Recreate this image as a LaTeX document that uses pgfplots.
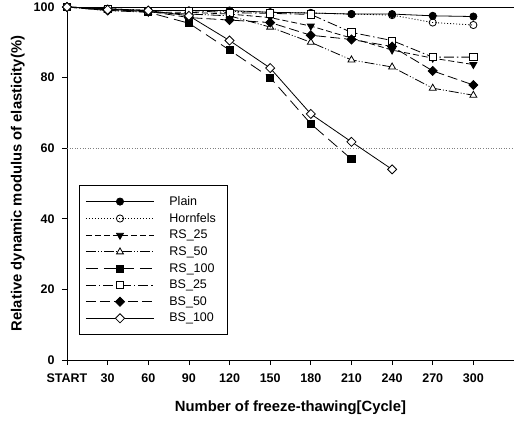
\documentclass[border=0pt]{standalone}
\usepackage{pgfplots}
\pgfplotsset{compat=1.18}
\usepackage{fontspec}
\setmainfont{Liberation Sans}
\begin{document}
\begin{tikzpicture}[x=1bp,y=1bp]
\begin{axis}[
  name=ax,
  scale only axis, width=447bp, height=353bp,
  xmin=0, xmax=11, ymin=0, ymax=100,
  axis x line=bottom, axis y line=left, axis line style={-, line width=0.8bp},
  tick align=outside, major tick length=5bp,
  tick style={line width=0.8bp, black},
  xtick={0,...,10}, xticklabels={START,30,60,90,120,150,180,210,240,270,300},
  ytick={0,20,40,60,80,100},
  /pgf/number format/assume math mode=true,
  ticklabel style={font=\fontsize{12.5bp}{14bp}\selectfont\bfseries},
  xticklabel style={yshift=-5bp},
  yticklabel style={xshift=-4bp},
  xlabel={Number of freeze-thawing[Cycle]},
  ylabel={Relative dynamic modulus of elasticity(\%)},
  label style={font=\fontsize{14.8bp}{17bp}\selectfont\bfseries},
  xlabel style={yshift=-12bp},
  ylabel style={yshift=2bp},
  clip=false,
  every axis plot/.append style={line width=0.8bp, black, mark size=3.6bp},
  legend cell align=left,
  legend style={at={(axis cs:0.3,49.6)}, anchor=north west, draw=black, line width=0.8bp,
    font=\fontsize{12.5bp}{14bp}\selectfont, inner xsep=6bp, inner ysep=9bp,
    row sep=2.4bp, nodes={inner xsep=5bp}},
  legend image code/.code={\draw[mark repeat=2,mark phase=2] plot coordinates {(0bp,0bp)(34bp,0bp)(68bp,0bp)}; \path (78bp,0bp);},
]
\addplot[forget plot, line width=0.8bp] coordinates {(0,100)(11,100)};
\addplot[forget plot, gray, dash pattern=on 0.8bp off 1.8bp, line width=0.6bp] coordinates {(0,60)(11,60)};

\addplot[solid, mark=*, mark options={solid, fill=black}] coordinates {(0,100)(1,99.5)(2,99)(3,99)(4,99)(5,98.5)(6,98.3)(7,98)(8,98)(9,97.5)(10,97.3)};
\addlegendentry{Plain}
\addplot[dash pattern=on 1bp off 2bp, mark=o, mark options={solid, fill=white}] coordinates {(0,100)(1,99.5)(2,99)(3,99)(4,98.8)(5,98.5)(6,98.3)(7,98)(8,97.7)(9,95.6)(10,94.9)};
\addlegendentry{Hornfels}
\addplot[dash pattern=on 6bp off 3bp, mark=triangle*, mark size=4bp, mark options={solid, fill=black, rotate=180}] coordinates {(0,100)(1,99.5)(2,98.5)(3,98.5)(4,98)(5,97)(6,94.6)(7,91.2)(8,87.8)(9,85.5)(10,83.7)};
\addlegendentry{RS\_25}
\addplot[dash pattern=on 10bp off 2bp on 1bp off 2bp on 1bp off 2bp, mark=triangle*, mark size=4bp, mark options={solid, fill=white}] coordinates {(0,100)(1,99)(2,98.5)(3,98)(4,97.5)(5,94.3)(6,90)(7,85)(8,83)(9,77)(10,75)};
\addlegendentry{RS\_50}
\addplot[dash pattern=on 12bp off 6bp, mark=square*, mark options={solid, fill=black}] coordinates {(0,100)(1,99.5)(2,98.5)(3,95.4)(4,87.8)(5,80)(6,66.9)(7,56.9)};
\addlegendentry{RS\_100}
\addplot[dash pattern=on 10bp off 3bp on 1.5bp off 3bp, mark=square*, mark options={solid, fill=white}] coordinates {(0,100)(1,99.5)(2,99)(3,99)(4,98.4)(5,98.2)(6,97.9)(7,92.8)(8,90.5)(9,85.8)(10,85.8)};
\addlegendentry{BS\_25}
\addplot[dash pattern=on 10bp off 4bp, mark=square*, mark size=3.2bp, mark options={solid, fill=black, rotate=45}] coordinates {(0,100)(1,99)(2,98.8)(3,97)(4,96.3)(5,95.6)(6,92)(7,90.8)(8,88.8)(9,81.9)(10,77.9)};
\addlegendentry{BS\_50}
\addplot[solid, mark=square*, mark size=3.2bp, mark options={solid, fill=white, rotate=45}] coordinates {(0,100)(1,99.2)(2,99)(3,97.5)(4,90.5)(5,82.7)(6,69.7)(7,61.8)(8,54)};
\addlegendentry{BS\_100}
\end{axis}
\pgfresetboundingbox
\path ([xshift=-67bp,yshift=-64bp]ax.south west) rectangle ([yshift=7bp]ax.north east);
\end{tikzpicture}
\end{document}
